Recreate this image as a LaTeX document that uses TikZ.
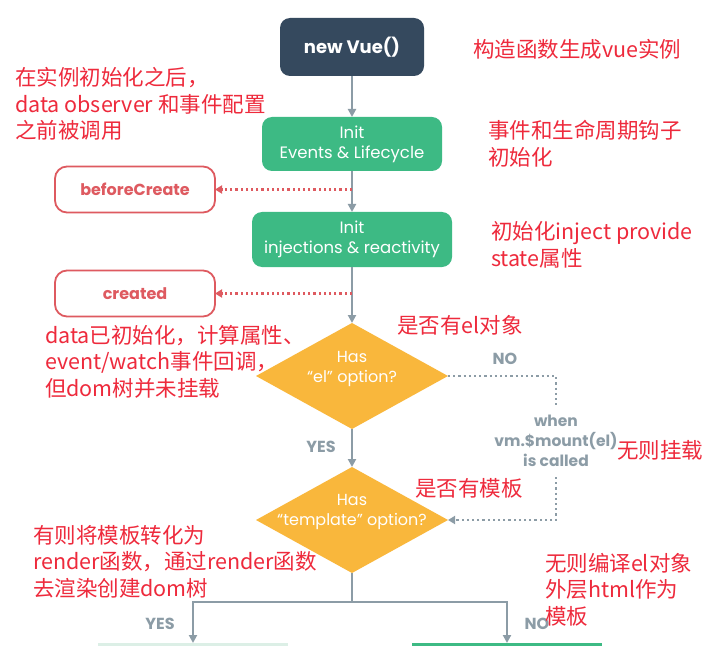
\documentclass[tikz,border=0pt]{standalone}
\usepackage{fontspec}
\setmainfont{Poppins}
\newfontfamily\cjk{Noto Sans CJK SC}
\usetikzlibrary{arrows.meta,shapes.geometric}
\definecolor{vnavy}{HTML}{35495E}
\definecolor{vgreen}{HTML}{3DBA84}
\definecolor{vorange}{HTML}{F9B73C}
\definecolor{vgrey}{HTML}{8C9CA6}
\definecolor{vred}{HTML}{EE2A3C}
\definecolor{hookred}{HTML}{DE5A60}
\definecolor{vpale}{HTML}{DCEFE6}
\begin{document}
\begin{tikzpicture}[x=1bp,y=-1bp,
  every node/.style={inner sep=0pt,outer sep=0pt},
  navybox/.style={fill=vnavy,rounded corners=10bp,text=white,font=\fontsize{18bp}{20bp}\selectfont\bfseries},
  greenbox/.style={fill=vgreen,rounded corners=10bp,text=white,align=center,font=\fontsize{16.5bp}{20bp}\selectfont},
  hookbox/.style={draw=hookred,line width=1.8bp,fill=white,rounded corners=12bp,minimum width=160bp,minimum height=46bp,text=hookred,font=\fontsize{16bp}{18bp}\selectfont\bfseries},
  decision/.style={diamond,fill=vorange,minimum width=192bp,minimum height=106bp},
  dtext/.style={text=white,align=center,font=\fontsize{16bp}{20bp}\selectfont},
  conn/.style={draw=vgrey,line width=2.4bp,-{Triangle[length=8bp,width=8bp]}},
  plainline/.style={draw=vgrey,line width=2.4bp},
  hookarrow/.style={draw=hookred,line width=2.2bp,dash pattern=on 2.2bp off 3bp,-{Triangle[length=7bp,width=8bp]}},
  dotgrey/.style={draw=vgrey,line width=2.2bp,dash pattern=on 2.2bp off 3bp},
  yesno/.style={text=vgrey,font=\fontsize{16bp}{18bp}\selectfont\bfseries},
  note/.style={text=vred,anchor=west,align=left,font=\cjk\fontsize{21.5bp}{26.5bp}\selectfont}
]
\useasboundingbox (0,0) rectangle (718,646);
\fill[white] (0,0) rectangle (718,646);

% main flow boxes
\node[navybox,minimum width=144bp,minimum height=58bp] (vue) at (352,47) {new Vue()};
\node[greenbox,minimum width=180bp,minimum height=54bp] (ev) at (352,144) {Init\\Events \& Lifecycle};
\node[greenbox,minimum width=200bp,minimum height=55bp] (inj) at (352,239.5) {Init\\injections \& reactivity};

% hooks
\node[hookbox] (bc) at (135,189.5) {beforeCreate};
\node[hookbox] (cr) at (135,293.5) {created};

% decisions
\node[decision] (d1) at (352,376) {};
\node[dtext] (d1t) at (352,369) {Has\\“el” option?};
\node[decision] (d2) at (352,520) {};
\node[dtext] (d2t) at (352,512) {Has\\“template” option?};

% bottom (cut off) boxes
\node[fill=vpale,minimum width=190bp,minimum height=34bp] (bl) at (193,660) {};
\node[fill=vgreen,minimum width=190bp,minimum height=34bp] (br) at (507,660) {};

% mount text
\node[text=vgrey,align=center,minimum height=72bp,font=\fontsize{15.5bp}{20bp}\selectfont\bfseries] (mnt) at (556,441) {when\\vm.\$mount(el)\\is called};

% connectors
\draw[conn] (vue.south) -- (ev.north);
\draw[conn] (ev.south) -- (inj.north);
\draw[conn] (inj.south) -- (d1.north);
\draw[conn] (d1.south) -- (d2.north);
\coordinate (split) at (352,602);
\draw[plainline] (d2.south) -- (split);
\draw[conn] (split) -| (bl.north);
\draw[conn] (split) -| (br.north);

\coordinate (h1) at (352,189.5);
\coordinate (h2) at (352,293.5);
\draw[hookarrow] (h1) -- (bc.east);
\draw[hookarrow] (h2) -- (cr.east);

\draw[dotgrey] (d1.east) -| (mnt.north);
\draw[dotgrey,-{Triangle[length=7bp,width=8bp]}] (mnt.south) |- (d2.east);

% yes / no labels
\node[yesno] (no1) at (505,359) {NO};
\node[yesno] (yes1) at (321,447) {YES};
\node[yesno] (yes2) at (160,624) {YES};
\node[yesno] (no2) at (537,624) {NO};

% red annotations
\node[note] (a1) at (473,49) {构造函数生成vue实例};
\node[note] (a2) at (15,104) {在实例初始化之后，\\data observer 和事件配置\\之前被调用};
\node[note] (a3) at (488,143.5) {事件和生命周期钩子\\初始化};
\node[note] (a4) at (491,245) {初始化inject provide\\state属性};
\node[note] (a5) at (397,325) {是否有el对象};
\node[note] (a6) at (45,361.5) {data已初始化，计算属性、\\event/watch事件回调，\\但dom树并未挂载};
\node[note] (a7) at (617,450) {无则挂载};
\node[note] (a8) at (415,488) {是否有模板};
\node[note] (a9) at (33,561.5) {有则将模板转化为\\render函数，通过render函数\\去渲染创建dom树};
\node[note] (a10) at (545,589.5) {无则编译el对象\\外层html作为\\模板};
\end{tikzpicture}
\end{document}
